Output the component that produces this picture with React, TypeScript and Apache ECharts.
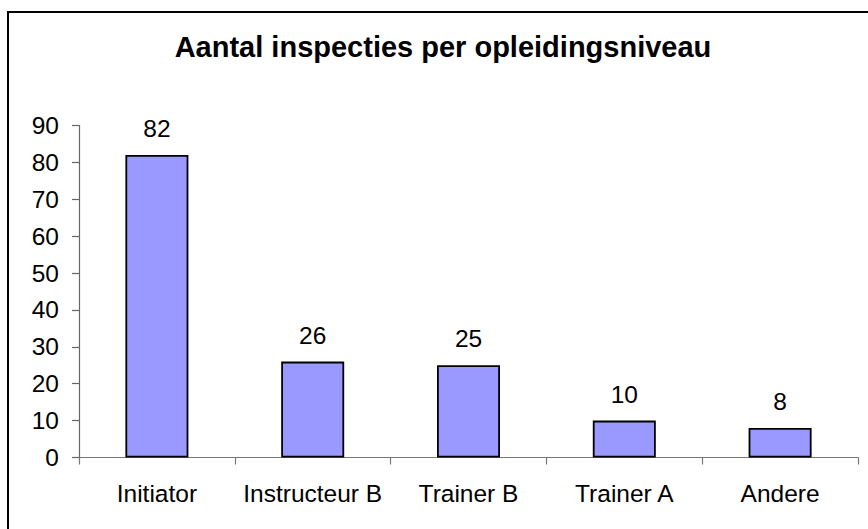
import React, { useEffect, useRef } from "react";
import * as echarts from "echarts";

const categories = ["Initiator", "Instructeur B", "Trainer B", "Trainer A", "Andere"];
const values = [82, 26, 25, 10, 8];
const chartTitle = "Aantal inspecties per opleidingsniveau";

export default function App() {
  const ref = useRef<HTMLDivElement>(null);
  useEffect(() => {
    if (!ref.current) return;
    const chart = echarts.init(ref.current, null, { renderer: "svg" });
    const font = "'Liberation Sans', Arial, sans-serif";
    chart.setOption({
      animation: false,
      backgroundColor: "#ffffff",
      title: {
        text: chartTitle,
        left: 443,
        textAlign: "center",
        top: 32.5,
        padding: 0,
        textStyle: { fontFamily: font, fontSize: 29, fontWeight: "bold", color: "#000" },
      },
      graphic: [
        {
          type: "rect",
          shape: { x: 8, y: 12, width: 1000, height: 800 },
          style: { fill: "none", stroke: "#000", lineWidth: 2 },
          silent: true,
        },
      ],
      grid: { left: 79, right: 10, top: 125.5, bottom: 71.5, containLabel: false },
      xAxis: {
        type: "category",
        data: categories,
        axisLine: { lineStyle: { color: "#777", width: 1.2 } },
        axisTick: { show: true, length: 7, lineStyle: { color: "#777", width: 1.2 } },
        axisLabel: { interval: 0, fontFamily: font, fontSize: 24.5, color: "#000", margin: 23 },
      },
      yAxis: {
        type: "value",
        min: 0,
        max: 90,
        interval: 10,
        splitLine: { show: false },
        axisLine: { show: true, lineStyle: { color: "#666", width: 1.2 } },
        axisTick: { show: true, length: 7, lineStyle: { color: "#666", width: 1.2 } },
        axisLabel: { fontFamily: font, fontSize: 24.5, color: "#000", margin: 20 },
      },
      series: [
        {
          type: "bar",
          data: values,
          barWidth: 63,
          itemStyle: { color: "#9999FF", borderColor: "#000", borderWidth: 1.8 },
          label: {
            show: true,
            position: "top",
            distance: 14,
            fontFamily: font,
            fontSize: 24.5,
            color: "#000",
          },
        },
      ],
    });
    return () => chart.dispose();
  }, []);
  return (
    <div
      ref={ref}
      style={{ position: "absolute", left: 0, top: 0, width: 868, height: 529 }}
    />
  );
}
